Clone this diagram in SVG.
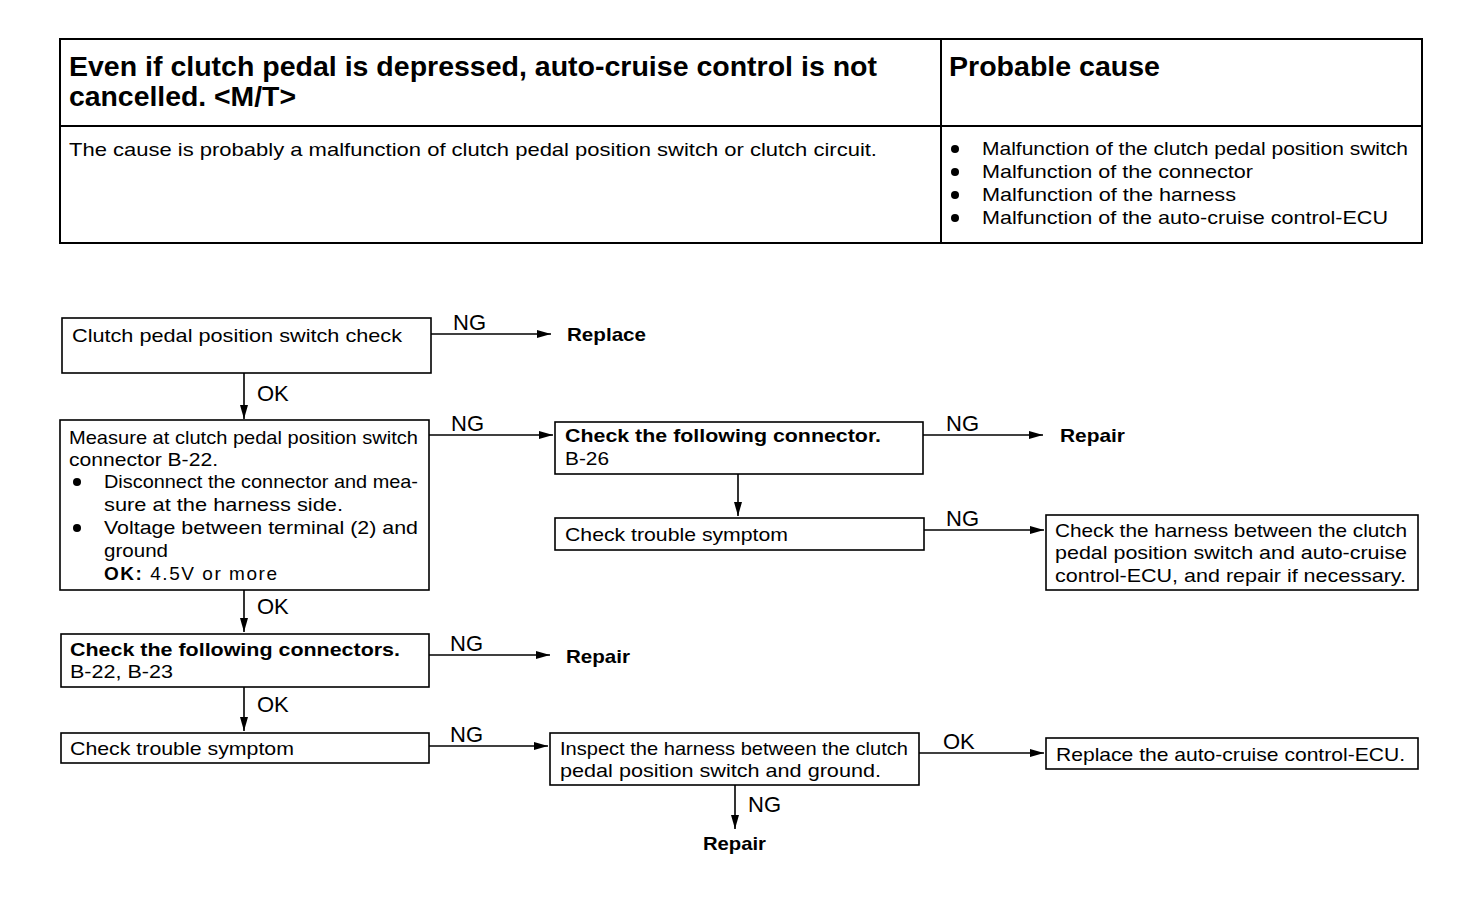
<svg xmlns="http://www.w3.org/2000/svg" width="1472" height="900" viewBox="0 0 1472 900">
<style>
text{font-family:"Liberation Sans",Arial,sans-serif;fill:#000}
.t{font-size:19px}
.b{font-weight:bold}
.h{font-size:27px;font-weight:bold}
.lbl{font-size:22px}
.box{fill:#fff;stroke:#000;stroke-width:1.6}
.tbl{fill:none;stroke:#000;stroke-width:2}
.c{stroke:#000;stroke-width:1.6;fill:none}
</style>
<defs>
<marker id="ah" viewBox="0 0 14 8" refX="14" refY="4" markerWidth="14" markerHeight="8" markerUnits="userSpaceOnUse" orient="auto">
<path d="M0,0 L14,4 L0,8 z" fill="#000"/>
</marker>
</defs>
<rect width="1472" height="900" fill="#fff"/>

<g id="table">
<rect class="tbl" x="60" y="39" width="1362" height="204"/>
<line class="tbl" x1="941" y1="39" x2="941" y2="243"/>
<line class="tbl" x1="60" y1="126" x2="1422" y2="126"/>
<text class="h" x="69" y="76" textLength="808" lengthAdjust="spacingAndGlyphs">Even if clutch pedal is depressed, auto-cruise control is not</text>
<text class="h" x="69" y="106" textLength="227" lengthAdjust="spacingAndGlyphs">cancelled. &lt;M/T&gt;</text>
<text class="h" x="949" y="76" textLength="211" lengthAdjust="spacingAndGlyphs">Probable cause</text>
<text class="t" x="69" y="156" textLength="808" lengthAdjust="spacingAndGlyphs">The cause is probably a malfunction of clutch pedal position switch or clutch circuit.</text>
<circle cx="955" cy="149" r="4"/>
<circle cx="955" cy="172" r="4"/>
<circle cx="955" cy="195" r="4"/>
<circle cx="955" cy="218" r="4"/>
<text class="t" x="982" y="155" textLength="426" lengthAdjust="spacingAndGlyphs">Malfunction of the clutch pedal position switch</text>
<text class="t" x="982" y="178" textLength="271" lengthAdjust="spacingAndGlyphs">Malfunction of the connector</text>
<text class="t" x="982" y="201" textLength="254" lengthAdjust="spacingAndGlyphs">Malfunction of the harness</text>
<text class="t" x="982" y="224" textLength="406" lengthAdjust="spacingAndGlyphs">Malfunction of the auto-cruise control-ECU</text>
</g>

<g id="connectors">
<line class="c" x1="431" y1="334" x2="551" y2="334" marker-end="url(#ah)"/>
<line class="c" x1="244" y1="373" x2="244" y2="419" marker-end="url(#ah)"/>
<line class="c" x1="429" y1="435" x2="553" y2="435" marker-end="url(#ah)"/>
<line class="c" x1="923" y1="435" x2="1043" y2="435" marker-end="url(#ah)"/>
<line class="c" x1="738" y1="474" x2="738" y2="516" marker-end="url(#ah)"/>
<line class="c" x1="924" y1="530" x2="1044" y2="530" marker-end="url(#ah)"/>
<line class="c" x1="244" y1="590" x2="244" y2="632" marker-end="url(#ah)"/>
<line class="c" x1="429" y1="655" x2="550" y2="655" marker-end="url(#ah)"/>
<line class="c" x1="244" y1="687" x2="244" y2="731" marker-end="url(#ah)"/>
<line class="c" x1="429" y1="746" x2="548" y2="746" marker-end="url(#ah)"/>
<line class="c" x1="919" y1="753" x2="1044" y2="753" marker-end="url(#ah)"/>
<line class="c" x1="735" y1="785" x2="735" y2="829" marker-end="url(#ah)"/>
<text class="lbl" x="453" y="330">NG</text>
<text class="lbl" x="257" y="401">OK</text>
<text class="lbl" x="451" y="431">NG</text>
<text class="lbl" x="946" y="431">NG</text>
<text class="lbl" x="946" y="526">NG</text>
<text class="lbl" x="257" y="614">OK</text>
<text class="lbl" x="450" y="651">NG</text>
<text class="lbl" x="257" y="712">OK</text>
<text class="lbl" x="450" y="742">NG</text>
<text class="lbl" x="943" y="749">OK</text>
<text class="lbl" x="748" y="812">NG</text>
</g>

<g id="n1">
<rect class="box" x="62" y="318" width="369" height="55"/>
<text class="t" x="72" y="342" textLength="330" lengthAdjust="spacingAndGlyphs">Clutch pedal position switch check</text>
</g>
<g id="n-replace1">
<text class="t b" x="567" y="341" textLength="79" lengthAdjust="spacingAndGlyphs">Replace</text>
</g>

<g id="n2">
<rect class="box" x="60" y="420" width="369" height="170"/>
<text class="t" x="69" y="444" textLength="349" lengthAdjust="spacingAndGlyphs">Measure at clutch pedal position switch</text>
<text class="t" x="69" y="466" textLength="149" lengthAdjust="spacingAndGlyphs">connector B-22.</text>
<circle cx="77" cy="482" r="4"/>
<text class="t" x="104" y="488" textLength="314" lengthAdjust="spacingAndGlyphs">Disconnect the connector and mea-</text>
<text class="t" x="104" y="511" textLength="239" lengthAdjust="spacingAndGlyphs">sure at the harness side.</text>
<circle cx="77" cy="528" r="4"/>
<text class="t" x="104" y="534" textLength="314" lengthAdjust="spacingAndGlyphs">Voltage between terminal (2) and</text>
<text class="t" x="104" y="557" textLength="64" lengthAdjust="spacingAndGlyphs">ground</text>
<text class="t" x="104" y="580" textLength="173" lengthAdjust="spacing"><tspan class="b">OK:</tspan> 4.5V or more</text>
</g>

<g id="n3">
<rect class="box" x="555" y="422" width="368" height="52"/>
<text class="t b" x="565" y="442" textLength="316" lengthAdjust="spacingAndGlyphs">Check the following connector.</text>
<text class="t" x="565" y="465" textLength="44" lengthAdjust="spacingAndGlyphs">B-26</text>
</g>
<g id="n-repair1">
<text class="t b" x="1060" y="442" textLength="65" lengthAdjust="spacingAndGlyphs">Repair</text>
</g>

<g id="n4">
<rect class="box" x="555" y="518" width="369" height="32"/>
<text class="t" x="565" y="541" textLength="223" lengthAdjust="spacingAndGlyphs">Check trouble symptom</text>
</g>

<g id="n5">
<rect class="box" x="1046" y="515" width="372" height="75"/>
<text class="t" x="1055" y="537" textLength="352" lengthAdjust="spacingAndGlyphs">Check the harness between the clutch</text>
<text class="t" x="1055" y="559" textLength="352" lengthAdjust="spacingAndGlyphs">pedal position switch and auto-cruise</text>
<text class="t" x="1055" y="582" textLength="351" lengthAdjust="spacingAndGlyphs">control-ECU, and repair if necessary.</text>
</g>

<g id="n6">
<rect class="box" x="61" y="634" width="368" height="53"/>
<text class="t b" x="70" y="656" textLength="330" lengthAdjust="spacingAndGlyphs">Check the following connectors.</text>
<text class="t" x="70" y="678" textLength="103" lengthAdjust="spacingAndGlyphs">B-22, B-23</text>
</g>
<g id="n-repair2">
<text class="t b" x="566" y="663" textLength="64" lengthAdjust="spacingAndGlyphs">Repair</text>
</g>

<g id="n7">
<rect class="box" x="61" y="733" width="368" height="30"/>
<text class="t" x="70" y="755" textLength="224" lengthAdjust="spacingAndGlyphs">Check trouble symptom</text>
</g>

<g id="n8">
<rect class="box" x="550" y="733" width="369" height="52"/>
<text class="t" x="560" y="755" textLength="348" lengthAdjust="spacingAndGlyphs">Inspect the harness between the clutch</text>
<text class="t" x="560" y="777" textLength="321" lengthAdjust="spacingAndGlyphs">pedal position switch and ground.</text>
</g>

<g id="n9">
<rect class="box" x="1046" y="738" width="372" height="31"/>
<text class="t" x="1056" y="761" textLength="349" lengthAdjust="spacingAndGlyphs">Replace the auto-cruise control-ECU.</text>
</g>

<g id="n-repair3">
<text class="t b" x="703" y="850" textLength="63" lengthAdjust="spacingAndGlyphs">Repair</text>
</g>
</svg>
